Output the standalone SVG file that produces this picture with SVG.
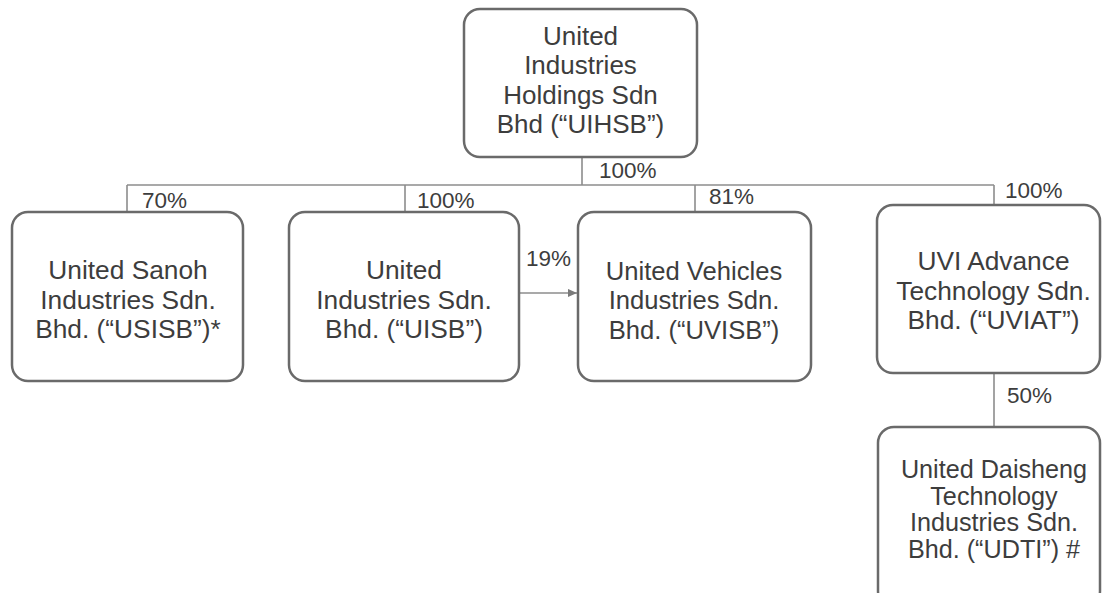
<svg xmlns="http://www.w3.org/2000/svg" width="1102" height="593" viewBox="0 0 1102 593">
<defs>
<style>
.box{fill:#ffffff;stroke:#6a6a6a;stroke-width:2.5}
.t{font-family:"Liberation Sans",Arial,sans-serif;fill:#3d3d3d;text-anchor:middle}
.p{font-family:"Liberation Sans",Arial,sans-serif;font-size:22.5px;fill:#3d3d3d}
.ln{stroke:#8c8c8c;stroke-width:1.6;fill:none}
</style>
<marker id="ah" viewBox="0 0 10 10" refX="10" refY="5" markerWidth="10" markerHeight="9" orient="auto" markerUnits="userSpaceOnUse">
<path d="M0,0.5 L10,5 L0,9.5 z" fill="#7a7a7a"/>
</marker>
</defs>
<rect width="1102" height="593" fill="#ffffff"/>
<g id="connectors">
<path class="ln" d="M582,157 V185"/>
<path class="ln" d="M127,185 H994"/>
<path class="ln" d="M127,185 V212"/>
<path class="ln" d="M405,185 V212"/>
<path class="ln" d="M695,185 V212"/>
<path class="ln" d="M994,185 V205"/>
<path class="ln" d="M519,293 H577" marker-end="url(#ah)"/>
<path class="ln" d="M994,373 V427"/>
<text class="p" x="599" y="178">100%</text>
<text class="p" x="142" y="208">70%</text>
<text class="p" x="417" y="208">100%</text>
<text class="p" x="709" y="204">81%</text>
<text class="p" x="1005" y="198">100%</text>
<text class="p" x="526" y="266">19%</text>
<text class="p" x="1007" y="403">50%</text>
</g>
<g id="uihsb">
<rect class="box" x="464" y="9" width="233" height="148" rx="16"/>
<g class="t" font-size="26">
<text x="580.5" y="44.5">United</text>
<text x="580.5" y="74">Industries</text>
<text x="580.5" y="103.5">Holdings Sdn</text>
<text x="580.5" y="133">Bhd (“UIHSB”)</text>
</g>
</g>
<g id="usisb">
<rect class="box" x="12" y="212" width="231" height="169" rx="16"/>
<g class="t" font-size="26.3">
<text x="128" y="279">United Sanoh</text>
<text x="128" y="308.5">Industries Sdn.</text>
<text x="128" y="338">Bhd. (“USISB”)*</text>
</g>
</g>
<g id="uisb">
<rect class="box" x="289" y="212" width="230" height="169" rx="16"/>
<g class="t" font-size="26.3">
<text x="404" y="279">United</text>
<text x="404" y="308.5">Industries Sdn.</text>
<text x="404" y="338">Bhd. (“UISB”)</text>
</g>
</g>
<g id="uvisb">
<rect class="box" x="578" y="212" width="233" height="169" rx="16"/>
<g class="t" font-size="25.6">
<text x="694" y="279.5">United Vehicles</text>
<text x="694" y="309">Industries Sdn.</text>
<text x="694" y="338.5">Bhd. (“UVISB”)</text>
</g>
</g>
<g id="uviat">
<rect class="box" x="877" y="205" width="223" height="168" rx="16"/>
<g class="t" font-size="26.3">
<text x="993.5" y="270">UVI Advance</text>
<text x="993.5" y="299.5">Technology Sdn.</text>
<text x="993.5" y="329">Bhd. (“UVIAT”)</text>
</g>
</g>
<g id="udti">
<rect class="box" x="878" y="427" width="222" height="180" rx="16"/>
<g class="t" font-size="25.2">
<text x="994" y="478">United Daisheng</text>
<text x="994" y="504.5">Technology</text>
<text x="994" y="531">Industries Sdn.</text>
<text x="994" y="557.5">Bhd. (“UDTI”) #</text>
</g>
</g>
</svg>
